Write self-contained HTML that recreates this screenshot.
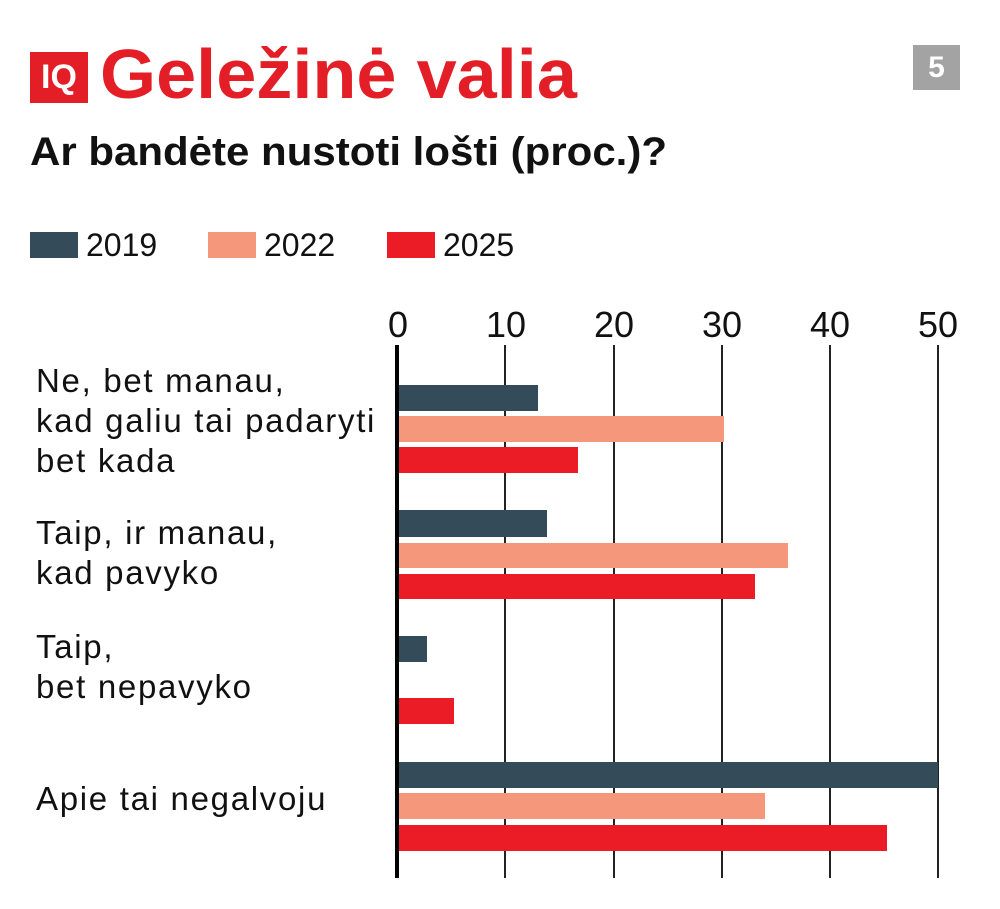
<!DOCTYPE html>
<html><head><meta charset="utf-8"><style>
body{margin:0;width:1000px;height:909px;background:#fff;font-family:"Liberation Sans",sans-serif;position:relative;overflow:hidden}
.a{position:absolute;white-space:nowrap}
</style></head><body>
<div class="a" style="left:30px;top:52px;width:58px;height:51px;background:#e31e26;color:#fff;font-weight:bold;font-size:34px;line-height:51px;text-align:center">IQ</div>
<div class="a" style="left:100px;top:34px;font-size:70px;font-weight:bold;color:#e31e26;line-height:80px;transform:scaleX(1.03);transform-origin:left">Geležinė valia</div>
<div class="a" style="left:913px;top:45px;width:47px;height:45px;background:#a3a3a3;color:#fff;font-weight:bold;font-size:30px;line-height:45px;text-align:center">5</div>
<div class="a" style="left:30px;top:128px;font-size:40px;font-weight:bold;color:#111;line-height:48px;transform:scaleX(1.05);transform-origin:left">Ar bandėte nustoti lošti (proc.)?</div>
<div class="a" style="left:30px;top:232px;width:48px;height:26px;background:#344c5a"></div>
<div class="a" style="left:86px;top:226px;font-size:32px;line-height:38px;color:#111">2019</div>
<div class="a" style="left:208px;top:232px;width:48px;height:26px;background:#f4977b"></div>
<div class="a" style="left:264px;top:226px;font-size:32px;line-height:38px;color:#111">2022</div>
<div class="a" style="left:387px;top:232px;width:48px;height:26px;background:#ec1c26"></div>
<div class="a" style="left:443px;top:226px;font-size:32px;line-height:38px;color:#111">2025</div>
<div style="position:absolute;left:0;top:0;font-size:33px;line-height:40px;color:#111">
<div class="a" style="left:36px;top:361px;letter-spacing:1.7px">Ne, bet manau,<br>kad galiu tai padaryti<br>bet kada</div>
<div class="a" style="left:36px;top:513px;letter-spacing:1.7px">Taip, ir manau,<br>kad pavyko</div>
<div class="a" style="left:36px;top:627px;letter-spacing:1.7px">Taip,<br>bet nepavyko</div>
<div class="a" style="left:36px;top:779px;letter-spacing:1.7px">Apie tai negalvoju</div>
</div>
<svg class="a" style="left:0;top:0" width="1000" height="909">
<g font-family="Liberation Sans" font-size="36" fill="#111" text-anchor="middle">
<text x="398" y="337">0</text><text x="506" y="337">10</text><text x="614" y="337">20</text><text x="722" y="337">30</text><text x="830" y="337">40</text><text x="938" y="337">50</text>
</g>
<g stroke="#222" stroke-width="2">
<line x1="505" y1="345" x2="505" y2="878"/><line x1="614" y1="345" x2="614" y2="878"/><line x1="722" y1="345" x2="722" y2="878"/><line x1="830" y1="345" x2="830" y2="878"/><line x1="938" y1="345" x2="938" y2="878"/>
</g>
<g fill="#344c5a"><rect x="398" y="385" width="140" height="26"/><rect x="398" y="510" width="149" height="27"/><rect x="398" y="636" width="29" height="26"/><rect x="398" y="762" width="540" height="26"/></g>
<g fill="#f4977b"><rect x="398" y="416" width="326" height="26"/><rect x="398" y="543" width="390" height="25"/><rect x="398" y="793" width="367" height="26"/></g>
<g fill="#ec1c26"><rect x="398" y="447" width="180" height="26"/><rect x="398" y="574" width="357" height="25"/><rect x="398" y="698" width="56" height="26"/><rect x="398" y="825" width="489" height="26"/></g>
<line x1="397" y1="345" x2="397" y2="878" stroke="#000" stroke-width="4"/>
</svg>
</body></html>
